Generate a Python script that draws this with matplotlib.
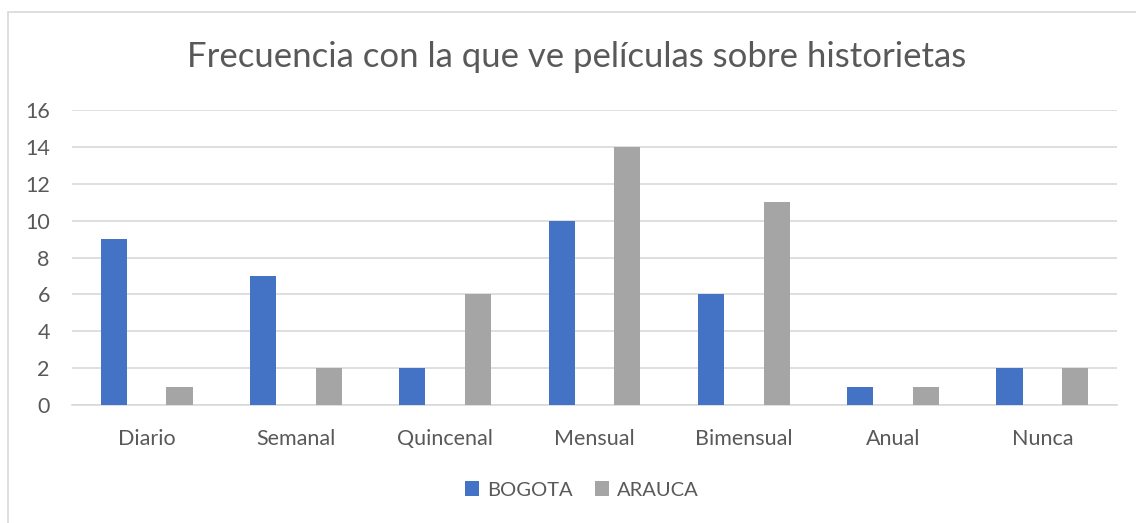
import numpy as np
import matplotlib
matplotlib.use("Agg")
import matplotlib.pyplot as plt
from matplotlib.patches import Rectangle

# data
categories = ['Diario', 'Semanal', 'Quincenal', 'Mensual', 'Bimensual', 'Anual', 'Nunca']
bogota = [9, 7, 2, 10, 6, 1, 2]
arauca = [1, 2, 6, 14, 11, 1, 2]
yticks = [0, 2, 4, 6, 8, 10, 12, 14, 16]

plt.rcParams['font.family'] = ['Lato', 'DejaVu Sans']
txt = '#595959'

W, H = 1136, 523
fig = plt.figure(figsize=(W / 100, H / 100), dpi=100)
ax = fig.add_axes([72 / W, 1 - 405 / H, (1117 - 72) / W, (405 - 110) / H])

# chart border (left + top visible)
fig.patches.append(Rectangle((8 / W, -0.1), 1.2, 1 - 12 / H + 0.1, transform=fig.transFigure,
                             fill=False, edgecolor='#d9d9d9', linewidth=1.2))

x = np.arange(len(categories))
w = 0.175
off = 0.22
ax.bar(x - off, bogota, w, color='#4472c4', label='BOGOTA', zorder=3)
ax.bar(x + off, arauca, w, color='#a5a5a5', label='ARAUCA', zorder=3)

ax.set_xlim(-0.5, len(categories) - 0.5)
ax.set_ylim(0, 16)
ax.set_yticks(yticks)
ax.set_xticks(x)
ax.set_xticklabels(categories)
ax.yaxis.grid(True, color='#d9d9d9', linewidth=1.2, zorder=0)
for s in ['top', 'right', 'left']:
    ax.spines[s].set_visible(False)
ax.spines['bottom'].set_color('#d9d9d9')
ax.spines['bottom'].set_linewidth(1.2)
ax.tick_params(axis='both', length=0, labelcolor=txt, labelsize=15.5)
ax.tick_params(axis='y', pad=16)
ax.tick_params(axis='x', pad=17)

fig.text(577 / W, 1 - 57 / H, 'Frecuencia con la que ve películas sobre historietas',
         ha='center', va='center', fontsize=25, color=txt)

fig.legend(loc='center', bbox_to_anchor=(582 / W, 1 - 490 / H), ncol=2, frameon=False,
           fontsize=14.5, labelcolor=txt, handlelength=0.7, handleheight=0.7,
           handletextpad=0.4, columnspacing=1.1)

fig.savefig('out.png', dpi=100)
